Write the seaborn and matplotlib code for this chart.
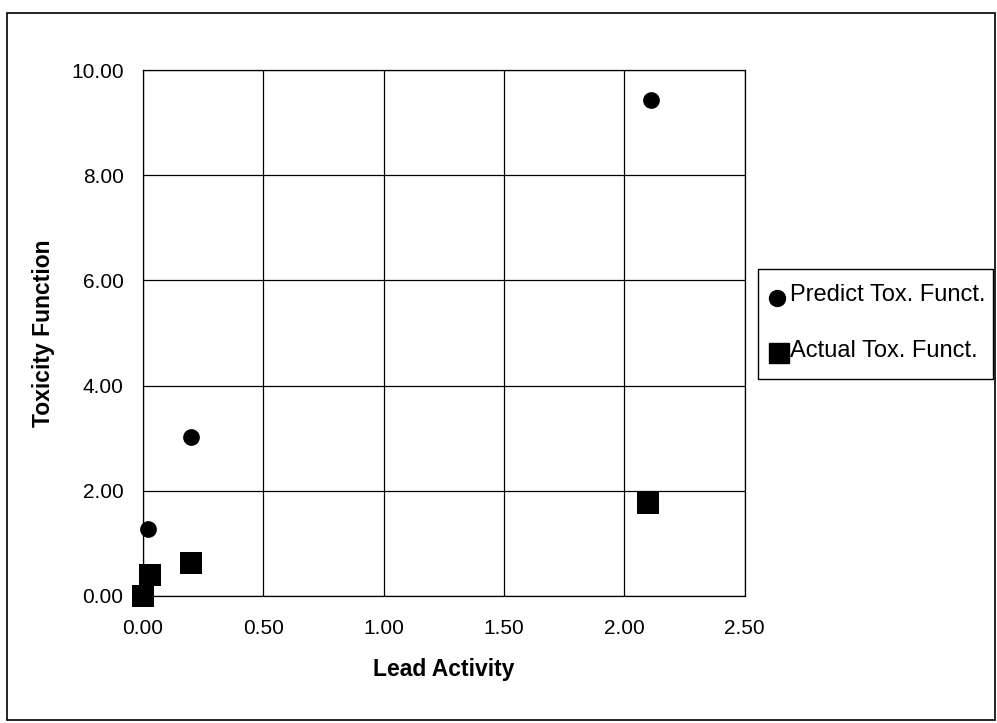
import numpy as np
import pandas as pd
import matplotlib
matplotlib.use("Agg")
import matplotlib.pyplot as plt
import seaborn as sns
from matplotlib.patches import Rectangle

predict_x = [0.02, 0.20, 2.11]
predict_y = [1.27, 3.02, 9.43]
actual_x = [0.00, 0.03, 0.20, 2.10]
actual_y = [0.00, 0.40, 0.63, 1.77]
series_names = ["Predict Tox. Funct.", "Actual Tox. Funct."]
x_ticks = [0.0, 0.5, 1.0, 1.5, 2.0, 2.5]
y_ticks = [0.0, 2.0, 4.0, 6.0, 8.0, 10.0]

df = pd.DataFrame({
    "x": predict_x + actual_x,
    "y": predict_y + actual_y,
    "series": [series_names[0]] * len(predict_x) + [series_names[1]] * len(actual_x),
})

sns.set_style("white")
plt.rcParams["font.family"] = ["Liberation Sans", "DejaVu Sans"]
plt.rcParams["text.color"] = "black"
plt.rcParams["axes.labelcolor"] = "black"
plt.rcParams["xtick.color"] = "black"
plt.rcParams["ytick.color"] = "black"

FS = 16.5
TFS = 15

fig = plt.figure(figsize=(9.97, 7.23), dpi=100)
ax = fig.add_axes([0.1434, 0.176, 0.6036, 0.727])

sub_p = df[df.series == series_names[0]]
sub_a = df[df.series == series_names[1]]
sns.scatterplot(data=sub_p, x="x", y="y", marker="o", color="black", s=145,
                edgecolor="black", linewidth=0, ax=ax, legend=False, clip_on=False, zorder=5)
sns.scatterplot(data=sub_a, x="x", y="y", marker="s", color="black", s=230,
                edgecolor="black", linewidth=0, ax=ax, legend=False, clip_on=False, zorder=5)

ax.set_xlim(0, 2.5)
ax.set_ylim(0, 10)
ax.set_xticks(x_ticks)
ax.set_yticks(y_ticks)
ax.set_xticklabels([f"{v:.2f}" for v in x_ticks], fontsize=TFS, color="black")
ax.set_yticklabels([f"{v:.2f}" for v in y_ticks], fontsize=TFS, color="black")
ax.grid(True, color="black", linewidth=0.9)
for sp in ax.spines.values():
    sp.set_color("black")
    sp.set_linewidth(0.9)
    sp.set_visible(True)
ax.tick_params(axis="both", direction="out", length=5, color="black", width=0.9)
ax.tick_params(axis="x", pad=12)
ax.tick_params(axis="y", pad=9)
ax.set_xlabel("Lead Activity", fontsize=FS, fontweight="bold", color="black")
ax.set_ylabel("Toxicity Function", fontsize=FS, fontweight="bold", color="black")
ax.xaxis.set_label_coords(0.5, -(670 - 596) / 526)
ax.xaxis.label.set_va("center")
ax.yaxis.set_label_coords(-(143 - 43) / 602, 0.5)
ax.yaxis.label.set_va("center")

# legend box
fig.patches.append(Rectangle((758 / 997, 1 - 379 / 723), (993 - 758) / 997, (379 - 269) / 723,
                             transform=fig.transFigure, fill=False, edgecolor="black", linewidth=1.0))
fig.lines.append(plt.Line2D([777 / 997], [1 - 298 / 723], marker="o", markersize=11.5, color="black",
                            linestyle="none", transform=fig.transFigure))
fig.lines.append(plt.Line2D([779 / 997], [1 - 353 / 723], marker="s", markersize=14.5, color="black",
                            linestyle="none", transform=fig.transFigure))
fig.text(790 / 997, 1 - 295 / 723, series_names[0], fontsize=17, va="center", ha="left", color="black")
fig.text(790 / 997, 1 - 351 / 723, series_names[1], fontsize=17, va="center", ha="left", color="black")

# outer border
fig.patches.append(Rectangle((7 / 997, 1 - 720 / 723), (995 - 7) / 997, (720 - 13) / 723,
                             transform=fig.transFigure, fill=False, edgecolor="black", linewidth=1.2))

fig.savefig("out.png", dpi=100)
